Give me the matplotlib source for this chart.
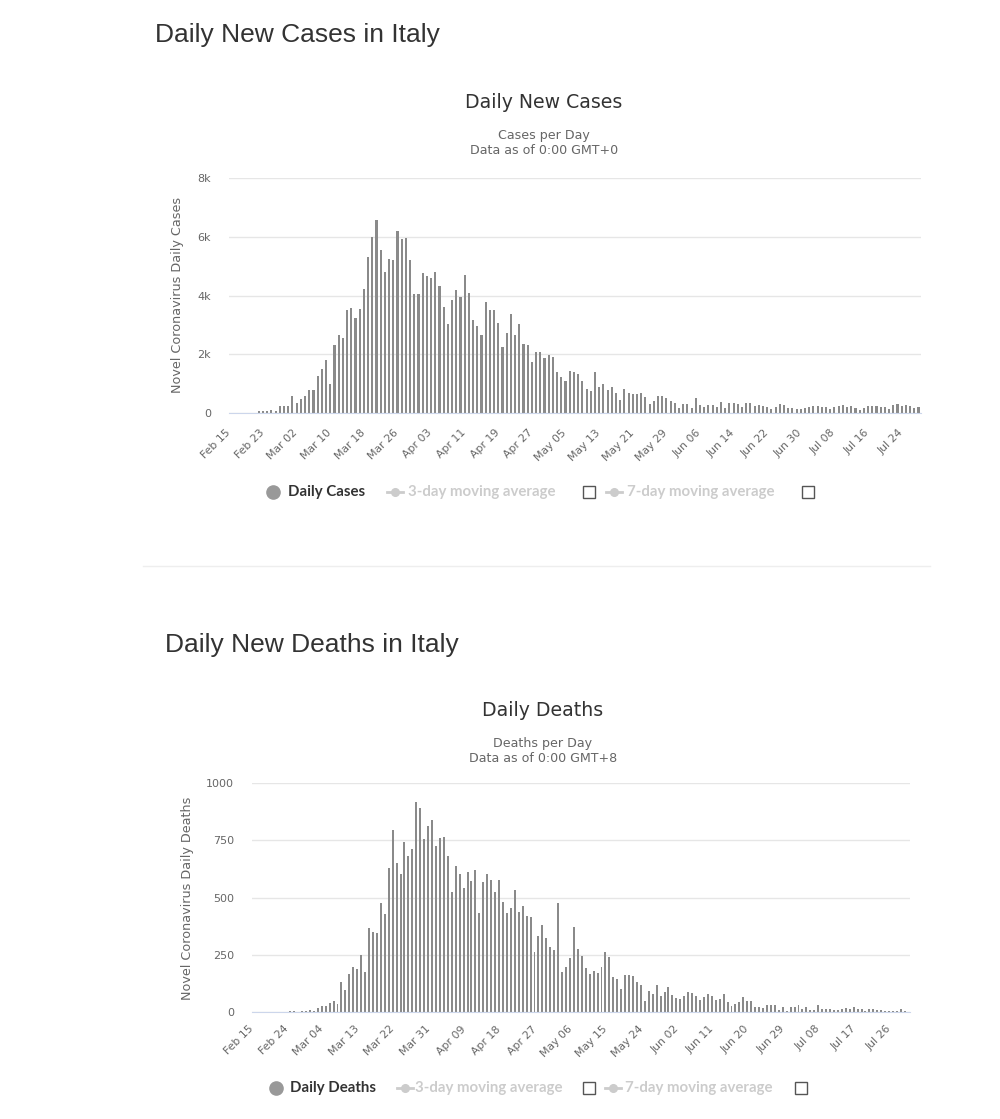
import numpy as np
import pandas as pd
import matplotlib
matplotlib.use("Agg")
import matplotlib.pyplot as plt
from matplotlib.lines import Line2D
from matplotlib.transforms import ScaledTranslation

# Datos diarios de Italia (desde el 15 de febrero)
casos_feb = [0, 0, 0, 0, 0, 0, 17, 59, 78, 72, 93, 78, 250, 238, 240]
casos_mar = [566, 342, 466, 587, 769, 778, 1247, 1492, 1797, 977, 2313, 2651, 2547, 3497, 3590, 3233,
             3526, 4207, 5322, 5986, 6557, 5560, 4789, 5249, 5210, 6203, 5909, 5974, 5217, 4050, 4053]
casos_abr = [4782, 4668, 4585, 4805, 4316, 3599, 3039, 3836, 4204, 3951, 4694, 4092, 3153, 2972, 2667,
             3786, 3493, 3491, 3047, 2256, 2729, 3370, 2646, 3021, 2357, 2324, 1739, 2091, 2086, 1872]
casos_may = [1965, 1900, 1389, 1221, 1075, 1444, 1401, 1327, 1083, 802, 744, 1402, 888, 992, 789, 875,
             675, 451, 813, 665, 642, 652, 669, 531, 300, 397, 584, 593, 516, 416, 355]
casos_jun = [178, 318, 321, 177, 518, 270, 197, 280, 283, 202, 379, 163, 346, 338, 301, 210, 328, 331,
             251, 262, 224, 218, 122, 190, 296, 259, 175, 174, 126, 142]
casos_jul = [182, 201, 223, 235, 192, 208, 138, 193, 229, 276, 188, 234, 169, 114, 163, 230, 233, 249,
             219, 190, 129, 282, 306, 252, 274, 255, 170, 212]

muertes_feb = [0, 0, 0, 0, 0, 0, 1, 1, 1, 4, 3, 2, 5, 4, 8]
muertes_mar = [5, 18, 27, 28, 41, 49, 36, 133, 97, 168, 196, 189, 250, 175, 368, 349, 345, 475, 427,
               627, 793, 651, 601, 743, 683, 712, 919, 889, 756, 812, 837]
muertes_abr = [727, 760, 766, 681, 525, 636, 604, 542, 610, 570, 619, 431, 566, 602, 578, 525, 575, 482,
               433, 454, 534, 437, 464, 420, 415, 260, 333, 382, 323, 285]
muertes_may = [269, 474, 174, 195, 236, 369, 274, 243, 194, 165, 179, 172, 195, 262, 242, 153, 145, 99,
               162, 161, 156, 130, 119, 50, 92, 78, 117, 70, 87, 111, 75]
muertes_jun = [60, 55, 71, 88, 85, 72, 53, 65, 79, 71, 53, 56, 78, 44, 26, 34, 43, 66, 47, 49, 24, 23,
               18, 30, 30, 30, 8, 22, 6, 23]
muertes_jul = [21, 30, 15, 21, 7, 8, 30, 15, 12, 12, 7, 9, 13, 17, 13, 20, 11, 14, 3, 13, 15, 9, 10, 5,
               5, 5, 5, 11, 6]

casos = casos_feb + casos_mar + casos_abr + casos_may + casos_jun + casos_jul
muertes = muertes_feb + muertes_mar + muertes_abr + muertes_may + muertes_jun + muertes_jul

etiquetas_casos = ["Feb 15", "Feb 23", "Mar 02", "Mar 10", "Mar 18", "Mar 26", "Apr 03", "Apr 11",
                   "Apr 19", "Apr 27", "May 05", "May 13", "May 21", "May 29", "Jun 06", "Jun 14",
                   "Jun 22", "Jun 30", "Jul 08", "Jul 16", "Jul 24"]
etiquetas_muertes = ["Feb 15", "Feb 24", "Mar 04", "Mar 13", "Mar 22", "Mar 31", "Apr 09", "Apr 18",
                     "Apr 27", "May 06", "May 15", "May 24", "Jun 02", "Jun 11", "Jun 20", "Jun 29",
                     "Jul 08", "Jul 17", "Jul 26"]

W, H = 1000, 1119
fig = plt.figure(figsize=(W / 100, H / 100), dpi=100)
fig.patch.set_facecolor("white")

GRIS = "#666666"
BARRA = "#8a8a8a"
FUENTE = "DejaVu Sans"


def fx(x):
    return x / W


def fy(y):
    return 1 - y / H


def panel(valores, paso, etiquetas, caja, xlim, ylim, yticks, yetiq, ylabel, ylab_pos, xpad, dx):
    x0, y0, x1, y1 = caja
    ax = fig.add_axes([fx(x0), fy(y1), (x1 - x0) / W, (y1 - y0) / H])
    idx = np.arange(len(valores))
    ax.bar(idx, valores, width=0.5, color=BARRA, linewidth=0, zorder=3)
    ax.set_xlim(*xlim)
    ax.set_ylim(*ylim)
    ax.set_yticks(yticks)
    ax.set_yticklabels(yetiq, color=GRIS, fontsize=8, family=FUENTE)
    ax.set_xticks(np.arange(len(etiquetas)) * paso)
    ax.set_xticklabels(etiquetas, rotation=45, ha="right", rotation_mode="anchor",
                       color=GRIS, fontsize=7.8, family=FUENTE)
    ax.tick_params(axis="y", length=0, pad=13)
    ax.tick_params(axis="x", length=0, pad=xpad)
    desplaza = ScaledTranslation(dx / 100, 0, fig.dpi_scale_trans)
    for t in ax.get_xticklabels():
        t.set_transform(t.get_transform() + desplaza)
    ax.grid(axis="y", color="#e6e6e6", linewidth=1, zorder=0)
    for s in ["top", "right", "left"]:
        ax.spines[s].set_visible(False)
    ax.spines["bottom"].set_color("#ccd6eb")
    ax.spines["bottom"].set_zorder(4)
    fig.text(fx(ylab_pos[0]), fy(ylab_pos[1]), ylabel, rotation=90, ha="center", va="center",
             color=GRIS, fontsize=9.2, family=FUENTE)
    return ax


def leyenda(y, xs, nombre):
    xc, xt, xl, xt3, xb1, xl7, xt7, xb2 = xs
    fig.add_artist(Line2D([fx(xc)], [fy(y)], marker="o", markersize=9.5, color="#999999",
                          linestyle="none", transform=fig.transFigure))
    fig.text(fx(xt), fy(y), nombre, ha="left", va="center", fontsize=10.8, family="Lato",
             fontweight="bold", color="#333333")
    for xl_, xt_, txt in [(xl, xt3, "3-day moving average"), (xl7, xt7, "7-day moving average")]:
        fig.add_artist(Line2D([fx(xl_), fx(xl_ + 16)], [fy(y), fy(y)], color="#cccccc", lw=2,
                              transform=fig.transFigure))
        fig.add_artist(Line2D([fx(xl_ + 8)], [fy(y)], marker="o", markersize=5.5, color="#cccccc",
                              transform=fig.transFigure))
        fig.text(fx(xt_), fy(y), txt, ha="left", va="center", fontsize=10.8, family="Lato",
                 fontweight="bold", color="#cccccc")
    for xb in [xb1, xb2]:
        fig.add_artist(Line2D([fx(xb)], [fy(y)], marker="s", markersize=9, markerfacecolor="white",
                              markeredgecolor="#555555", markeredgewidth=1, linestyle="none",
                              transform=fig.transFigure))


# --- Casos diarios ---
fig.text(fx(155), fy(35), "Daily New Cases in Italy", ha="left", va="center",
         fontsize=19, family="Liberation Sans", color="#333333")
fig.text(fx(544), fy(102), "Daily New Cases", ha="center", va="center", fontsize=13.6,
         family=FUENTE, color="#333333")
fig.text(fx(544), fy(135), "Cases per Day", ha="center", va="center", fontsize=9.1,
         family=FUENTE, color=GRIS)
fig.text(fx(544), fy(151), "Data as of 0:00 GMT+0", ha="center", va="center", fontsize=9.1,
         family=FUENTE, color=GRIS)
panel(casos, 8, etiquetas_casos, (229, 178, 921, 413), (-0.1, 164.6), (0, 8000),
      [0, 2000, 4000, 6000, 8000], ["0", "2k", "4k", "6k", "8k"],
      "Novel Coronavirus Daily Cases", (178, 295), 10.5, -4)
leyenda(492, (273, 288, 387, 408, 589, 606, 627, 808), "Daily Cases")

fig.add_artist(Line2D([fx(143), fx(930)], [fy(566), fy(566)], color="#eeeeee", lw=1,
                      transform=fig.transFigure))

# --- Muertes diarias ---
fig.text(fx(165), fy(645), "Daily New Deaths in Italy", ha="left", va="center",
         fontsize=19, family="Liberation Sans", color="#333333")
fig.text(fx(543), fy(710), "Daily Deaths", ha="center", va="center", fontsize=13.6,
         family=FUENTE, color="#333333")
fig.text(fx(543), fy(743), "Deaths per Day", ha="center", va="center", fontsize=9.1,
         family=FUENTE, color=GRIS)
fig.text(fx(543), fy(758), "Data as of 0:00 GMT+8", ha="center", va="center", fontsize=9.1,
         family=FUENTE, color=GRIS)
panel(muertes, 9, etiquetas_muertes, (252, 783, 910, 1012), (-0.7, 166.3), (0, 1000),
      [0, 250, 500, 750, 1000], ["0", "250", "500", "750", "1000"],
      "Novel Coronavirus Daily Deaths", (188, 898), 8.5, -7)
leyenda(1088, (276, 290, 397, 415, 589, 605, 625, 801), "Daily Deaths")

fig.savefig("out.png", dpi=100, facecolor="white")
